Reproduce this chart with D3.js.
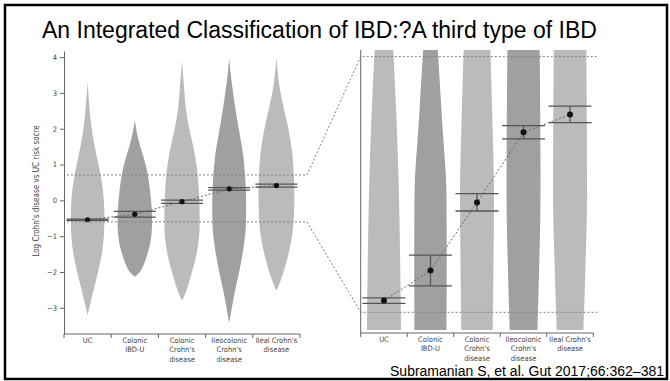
<!DOCTYPE html>
<html>
<head>
<meta charset="utf-8">
<script src="https://cdn.jsdelivr.net/npm/d3@7"></script>
<style>
  body { margin: 0; background: #fff; }
  svg { display: block; }
  .tick text, .cat { font-family: "Liberation Sans Narrow", "DejaVu Sans Condensed", sans-serif; fill: #444; }
</style>
</head>
<body>
<div id="chart"></div>
<script>
const categories = ['UC', 'Colonic IBD-U', "Colonic Crohn's disease", "Ileocolonic Crohn's disease", "Ileal Crohn's disease"];
const catLines = [['UC'], ['Colonic', 'IBD-U'], ['Colonic', "Crohn's", 'disease'], ['Ileocolonic', "Crohn's", 'disease'], ["Ileal Crohn's", 'disease']];
const shades = ['light', 'dark', 'light', 'dark', 'light'];

// mean and confidence interval of the risk score
const means = [-0.54, -0.386, -0.037, 0.322, 0.413];
const ciLow = [-0.554, -0.465, -0.081, 0.289, 0.372];
const ciHigh = [-0.526, -0.307, 0.008, 0.357, 0.456];

// violin outlines, [score, density]
const violinUC = [[3.3, 0], [2.5, 4], [2.0, 8], [1.5, 14], [1.0, 22], [0.5, 29], [0.0, 33], [-0.5, 34], [-1.0, 33], [-1.5, 29], [-2.0, 21], [-2.5, 12], [-2.9, 5], [-3.2, 0]];
const violinIBDU = [[2.24, 0], [1.8, 5], [1.5, 11], [1.2, 18], [0.7, 27], [0.0, 33], [-0.5, 35], [-1.0, 34], [-1.4, 28], [-1.85, 17], [-2.05, 8], [-2.13, 0]];
const violinColonic = [[3.9, 0], [3.0, 5], [2.6, 7], [2.0, 14], [1.68, 20], [1.2, 27], [0.7, 32], [0.0, 35], [-0.9, 36], [-1.5, 30], [-2.0, 20], [-2.5, 10], [-2.81, 0]];
const violinIleocolonic = [[3.97, 0], [3.5, 3], [3.08, 7], [2.6, 12], [2.15, 17], [1.7, 23], [1.22, 29], [0.3, 34], [-0.5, 34], [-0.91, 33], [-1.5, 27], [-2.0, 20], [-2.5, 12], [-2.78, 8], [-3.1, 4], [-3.42, 0]];
const violinIleal = [[3.98, 0], [3.5, 3], [3.08, 7], [2.6, 14], [2.15, 22], [1.7, 28], [1.22, 33], [0.5, 36], [-0.3, 36], [-0.91, 33], [-1.4, 26], [-1.85, 18], [-2.3, 7], [-2.52, 0]];
const violins = [violinUC, violinIBDU, violinColonic, violinIleocolonic, violinIleal];

// zoomed panel outlines (re-scaled widths) at these score levels
const zoomLevels = [0.744, 0.37, 0.0, -0.35, -0.69];
const zoomUC = [18.6, 25.5, 30, 32.5, 34];
const zoomIBDU = [14.7, 23.5, 32, 32.5, 32];
const zoomColonic = [26.7, 31, 34, 33, 31.4];
const zoomIleocolonic = [32.3, 33.5, 34, 31.5, 27.7];
const zoomIleal = [32.6, 33.5, 34, 31, 26.7];
const zoomWidths = [zoomUC, zoomIBDU, zoomColonic, zoomIleocolonic, zoomIleal];

const yTicks = [-3, -2, -1, 0, 1, 2, 3, 4];
const zoomWindow = [-0.6, 0.71];

const width = 670, height = 381;
const color = d3.scaleOrdinal().domain(['light', 'dark']).range(['#bbbbbb', '#a0a0a0']);

const svg = d3.select('#chart').append('svg')
  .attr('width', width).attr('height', height);

// slide frame
svg.append('rect')
  .attr('x', 5).attr('y', 5).attr('width', 662).attr('height', 374)
  .attr('fill', 'none').attr('stroke', '#000').attr('stroke-width', 2.5);

svg.append('text')
  .attr('x', 42).attr('y', 38)
  .attr('font-family', 'Liberation Sans, Arial, sans-serif')
  .attr('font-size', 23)
  .attr('fill', '#000')
  .text('An Integrated Classification of IBD:?A third type of IBD');

svg.append('text')
  .attr('x', 664).attr('y', 375.5)
  .attr('text-anchor', 'end')
  .attr('font-family', 'Liberation Sans, Arial, sans-serif')
  .attr('font-size', 14)
  .attr('fill', '#000')
  .text('Subramanian S, et al. Gut 2017;66:362\u2013381');

// scales
const x = d3.scaleBand().domain(categories).range([64, 300]);
const y = d3.scaleLinear().domain([-3.73, 4.17]).range([334, 51]);
const w = d3.scaleLinear().domain([0, 36]).range([0, 36]);

const xR = d3.scaleBand().domain(categories).range([360.7, 593.3]);
const yR = d3.scaleLinear().domain([-0.706, 0.744]).range([333, 50]);
const wR = d3.scaleLinear().domain([0, 34]).range([0, 34]);

const dashStyle = sel => sel.attr('fill', 'none').attr('stroke', '#808080')
  .attr('stroke-width', 1).attr('stroke-dasharray', '2,2');

// ---- left panel: violins ----
const left = svg.append('g');
violins.forEach((v, i) => {
  const cx = x(categories[i]) + x.bandwidth() / 2;
  const area = d3.area()
    .y(d => y(d[0]))
    .x0(d => cx - w(d[1]) / 2)
    .x1(d => cx + w(d[1]) / 2)
    .curve(d3.curveBasis);
  left.append('path').attr('d', area(v)).attr('fill', color(shades[i]));
});

// ---- right panel: zoomed violins ----
const right = svg.append('g');
zoomWidths.forEach((zw, i) => {
  const cx = xR(categories[i]) + xR.bandwidth() / 2;
  const pts = zoomLevels.map((lv, j) => [lv, zw[j]]);
  const area = d3.area()
    .y(d => yR(d[0]))
    .x0(d => cx - wR(d[1]) / 2)
    .x1(d => cx + wR(d[1]) / 2)
    .curve(d3.curveMonotoneY);
  right.append('path').attr('d', area(pts)).attr('fill', color(shades[i]));
});

// zoom window guides
const xEnd = x.range()[1], xStart = xR.range()[0];
const guideTop = [[x.range()[0] + 3, y(zoomWindow[1])], [xEnd + 7, y(zoomWindow[1])], [xStart, yR(zoomWindow[1])], [xR.range()[1] + 4, yR(zoomWindow[1])]];
const guideBot = [[x.range()[0] + 3, y(zoomWindow[0])], [xEnd + 7, y(zoomWindow[0])], [xStart, yR(zoomWindow[0])], [xR.range()[1] + 4, yR(zoomWindow[0])]];
svg.append('path').attr('d', d3.line()(guideTop)).call(dashStyle);
svg.append('path').attr('d', d3.line()(guideBot)).call(dashStyle);

// mean trend lines
left.append('path')
  .attr('d', d3.line()(means.map((m, i) => [x(categories[i]) + x.bandwidth() / 2, y(m)])))
  .call(dashStyle).attr('stroke', '#666');
right.append('path')
  .attr('d', d3.line()(means.map((m, i) => [xR(categories[i]) + xR.bandwidth() / 2, yR(m)])))
  .call(dashStyle).attr('stroke', '#666');

// confidence intervals + means
function drawCI(g, xs, ys, half, r, stem) {
  categories.forEach((c, i) => {
    const cx = xs(c) + xs.bandwidth() / 2;
    [ciLow[i], ciHigh[i]].forEach(v => {
      g.append('line')
        .attr('x1', cx - half).attr('x2', cx + half)
        .attr('y1', ys(v)).attr('y2', ys(v))
        .attr('stroke', '#555').attr('stroke-width', 1.3);
    });
    if (stem) {
      g.append('line')
        .attr('x1', cx).attr('x2', cx)
        .attr('y1', ys(ciLow[i])).attr('y2', ys(ciHigh[i]))
        .attr('stroke', '#555').attr('stroke-width', 1.3);
    }
    g.append('circle').attr('cx', cx).attr('cy', ys(means[i])).attr('r', r).attr('fill', '#111');
  });
}
drawCI(left, x, y, 21, 2.6, false);
drawCI(right, xR, yR, 21.5, 3, true);

// ---- axes ----
const yAxis = left.append('g')
  .attr('transform', `translate(${x.range()[0]},0)`)
  .call(d3.axisLeft(y).tickValues(yTicks).tickSize(4).tickPadding(3).tickSizeOuter(0));
yAxis.selectAll('text').attr('font-size', 7.5);

left.append('text')
  .attr('transform', `translate(39,${191}) rotate(-90)`)
  .attr('text-anchor', 'middle')
  .attr('class', 'cat')
  .attr('font-size', 8)
  .text("Log Crohn's disease vs UC risk socre");

svg.append('line')
  .attr('x1', xR.range()[0]).attr('x2', xR.range()[0])
  .attr('y1', yR.range()[1]).attr('y2', yR.range()[0])
  .attr('stroke', '#666');

function xAxisAt(g, xs, yPos) {
  g.append('line')
    .attr('x1', xs.range()[0]).attr('x2', xs.range()[1])
    .attr('y1', yPos).attr('y2', yPos)
    .attr('stroke', '#666');
  const edges = categories.map(c => xs(c)).concat([xs.range()[1]]);
  edges.forEach(e => {
    g.append('line').attr('x1', e).attr('x2', e)
      .attr('y1', yPos).attr('y2', yPos + 4).attr('stroke', '#666');
  });
  categories.forEach((c, i) => {
    const t = g.append('text')
      .attr('class', 'cat')
      .attr('text-anchor', 'middle')
      .attr('font-size', 7.5)
      .attr('x', xs(c) + xs.bandwidth() / 2)
      .attr('y', yPos + 8.5);
    catLines[i].forEach((ln, k) => {
      t.append('tspan').attr('x', xs(c) + xs.bandwidth() / 2)
        .attr('dy', k === 0 ? 0 : 9.8).text(ln);
    });
  });
}
xAxisAt(left, x, y.range()[0]);
xAxisAt(right, xR, yR.range()[0]);

svg.selectAll('.domain').attr('stroke', '#666');
svg.selectAll('.tick line').attr('stroke', '#666');
</script>
</body>
</html>
